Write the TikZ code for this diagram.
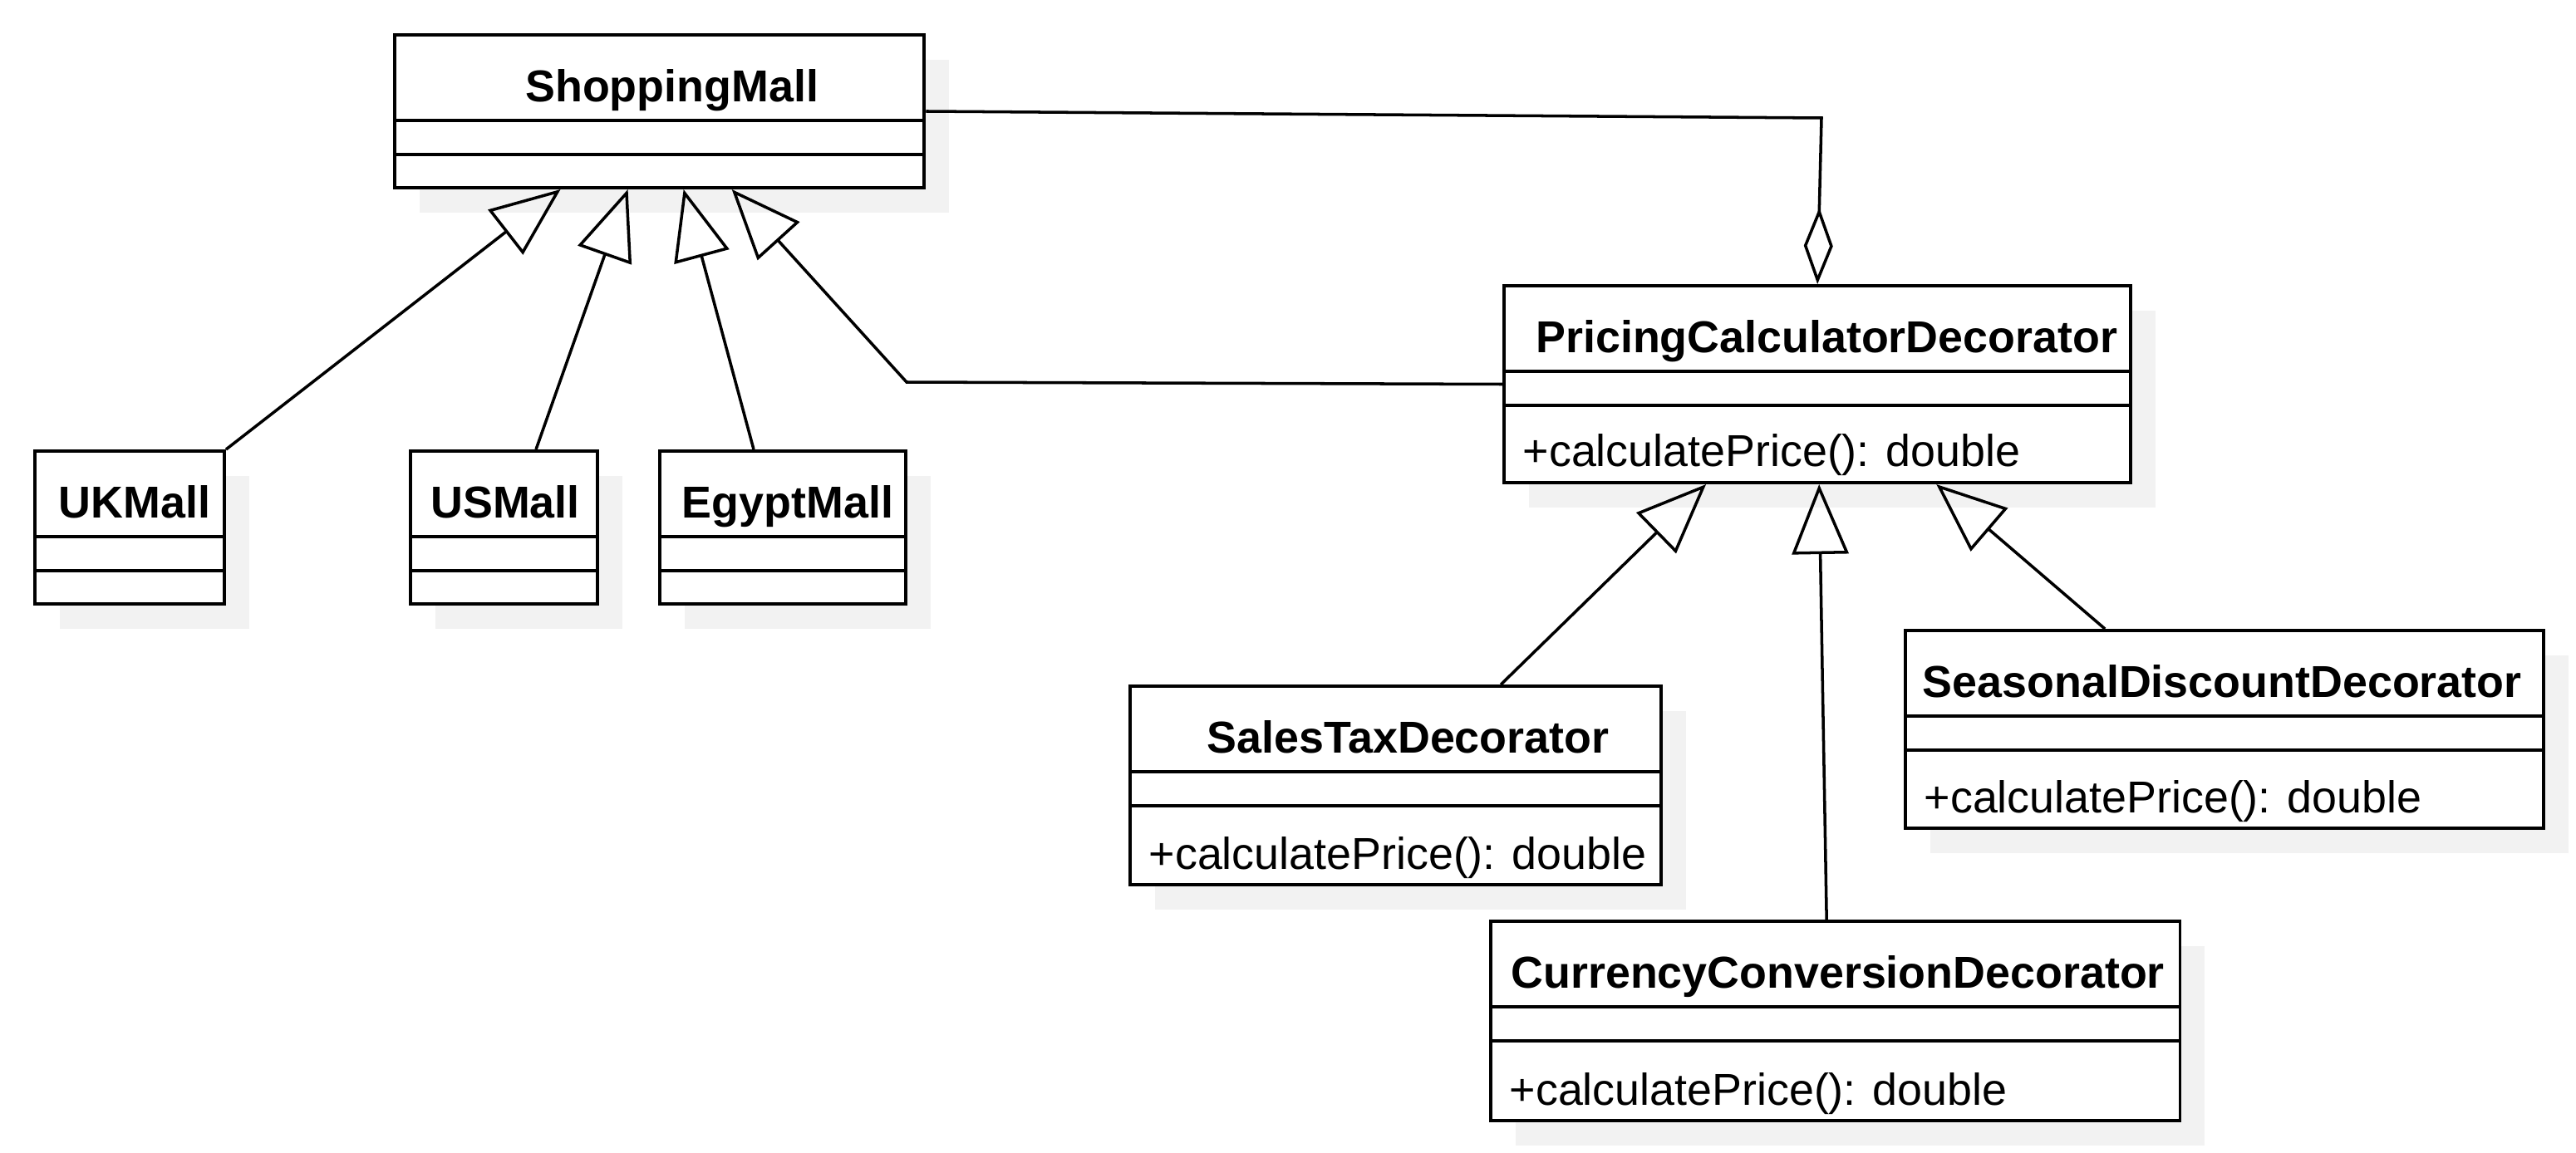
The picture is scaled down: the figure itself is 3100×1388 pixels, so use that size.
\documentclass[tikz,border=0pt]{standalone}
\usepackage{fontspec}
\setmainfont{Liberation Sans}
\usetikzlibrary{arrows.meta,shadows}

\tikzset{
  classbox/.style={draw, line width=1.1pt, fill=white, inner sep=0pt, anchor=north west,
    drop shadow={shadow xshift=0.3cm, shadow yshift=-0.3cm, fill=black!5, opacity=1}},
  divider/.style={line width=1.1pt},
  classname/.style={font=\fontsize{15.3}{18}\selectfont\bfseries, inner sep=0pt, anchor=base},
  method/.style={font=\fontsize{15.3}{18}\selectfont, inner sep=0pt, anchor=base west},
  inherit/.style={line width=1pt, -{Triangle[open, length=0.84cm, width=0.68cm]}},
  aggregate/.style={line width=1pt, -{Diamond[open, length=0.92cm, width=0.35cm]}},
}

\begin{document}
\begin{tikzpicture}[x=0.01cm, y=-0.01cm]
  \useasboundingbox (0,0) rectangle (3100,1388);
  % classes
  \node[classbox, minimum width=6.37cm, minimum height=1.84cm] (sm) at (473,40) {};
  \node[classbox, minimum width=2.28cm, minimum height=1.84cm] (uk) at (40,541) {};
  \node[classbox, minimum width=2.25cm, minimum height=1.84cm] (us) at (492,541) {};
  \node[classbox, minimum width=2.96cm, minimum height=1.84cm] (eg) at (792,541) {};
  \node[classbox, minimum width=7.54cm, minimum height=2.37cm] (pcd) at (1808,342) {};
  \node[classbox, minimum width=6.39cm, minimum height=2.39cm] (st) at (1358,824) {};
  \node[classbox, minimum width=8.29cm, minimum height=2.40cm] (cc) at (1792,1107) {};
  \node[classbox, minimum width=7.68cm, minimum height=2.38cm] (sd) at (2291,757) {};

  % compartments
  \foreach \c in {sm,uk,us,eg,pcd,st,cc,sd} {
    \draw[divider] ([yshift=-1.05cm]\c.north west) -- ([yshift=-1.05cm]\c.north east);
    \draw[divider] ([yshift=-1.46cm]\c.north west) -- ([yshift=-1.46cm]\c.north east);
  }

  % names
  \node[classname] (smname) at ([xshift=0.15cm, yshift=-0.82cm]sm.north) {ShoppingMall};
  \node[classname] (ukname) at ([xshift=0.06cm, yshift=-0.82cm]uk.north) {UKMall};
  \node[classname] (usname) at ([xshift=0.015cm, yshift=-0.82cm]us.north) {USMall};
  \node[classname] (egname) at ([xshift=0.06cm, yshift=-0.82cm]eg.north) {EgyptMall};
  \node[classname] (pcdname) at ([xshift=0.11cm, yshift=-0.82cm]pcd.north) {PricingCalculatorDecorator};
  \node[classname] (stname) at ([xshift=0.15cm, yshift=-0.82cm]st.north) {SalesTaxDecorator};
  \node[classname] (ccname) at ([xshift=0.03cm, yshift=-0.82cm]cc.north) {CurrencyConversionDecorator};
  \node[classname] (sdname) at ([xshift=-0.03cm, yshift=-0.82cm]sd.north) {SeasonalDiscountDecorator};

  % methods
  \node[method] (pcdop) at ([xshift=0.24cm, yshift=0.21cm]pcd.south west) {+calculatePrice(): double};
  \node[method] (stop) at ([xshift=0.24cm, yshift=0.21cm]st.south west) {+calculatePrice(): double};
  \node[method] (ccop) at ([xshift=0.24cm, yshift=0.21cm]cc.south west) {+calculatePrice(): double};
  \node[method] (sdop) at ([xshift=0.24cm, yshift=0.21cm]sd.south west) {+calculatePrice(): double};

  % connectors
  \coordinate (aggbend) at (2192,142);
  \coordinate (pcdbend) at (1091,460);
  \draw[aggregate] (sm.east) -- (aggbend) -- (pcd.north);
  \draw[inherit] (uk.north east) -- ([xshift=-1.19cm]sm.south);
  \draw[inherit] ([xshift=0.385cm]us.north) -- ([xshift=-0.38cm]sm.south);
  \draw[inherit] ([xshift=-0.35cm]eg.north) -- ([xshift=0.29cm]sm.south);
  \draw[inherit] (pcd.west) -- (pcdbend) -- ([xshift=0.87cm]sm.south);
  \draw[inherit] ([xshift=1.265cm]st.north) -- ([xshift=-1.34cm]pcd.south);
  \draw[inherit] ([xshift=-0.105cm]cc.north) -- ([xshift=0.02cm]pcd.south);
  \draw[inherit] ([xshift=-1.44cm]sd.north) -- ([xshift=1.43cm]pcd.south);
\end{tikzpicture}
\end{document}
